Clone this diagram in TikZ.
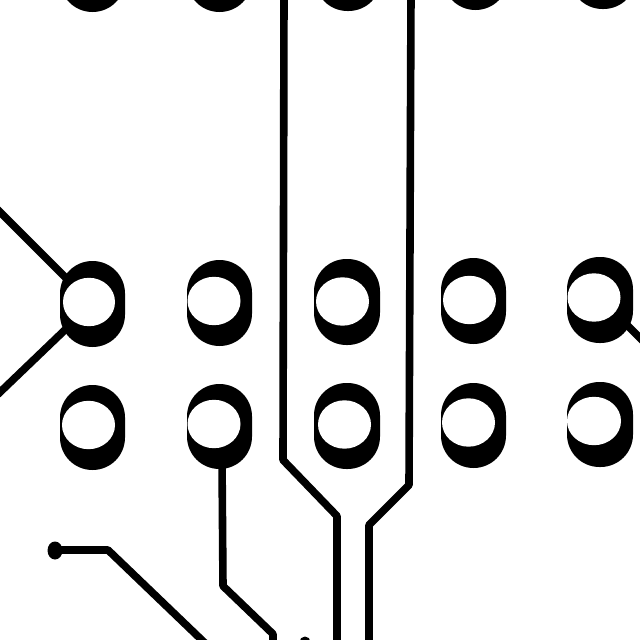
\documentclass[tikz,border=0pt]{standalone}
\tikzset{
  trace/.style={draw=black,line width=7.6pt,line join=round,line cap=butt},
  padshape/.style={fill=black,rounded corners=32.4pt},
  hole/.style={fill=white}
}
\newcommand{\padat}[7]{% x0 x1 y0 y1 holex holey (rx=#7)
  \path[padshape] (#1,#3) rectangle (#2,#4);
  \path[hole] (#5,#6) ellipse [x radius=#7pt,y radius=24.2pt];
}
\begin{document}
\begin{tikzpicture}[x=1pt,y=-1pt]
\useasboundingbox (0,0) rectangle (640,640);
\fill[white] (0,0) rectangle (640,640);
\begin{scope}
\clip (0,0) rectangle (640,640);
% traces
\draw[trace] (-5,207) -- (66,278);
\draw[trace] (-5,397) -- (68,327);
\draw[trace] (622,320) -- (650,348);
\draw[trace] (284,-5) -- (283,460) -- (337,516) -- (337,645);
\draw[trace] (411,-5) -- (409,485) -- (369,525) -- (369,645);
\draw[trace] (222,460) -- (223,586) -- (273,634) -- (273,645);
\draw[trace] (55,550) -- (108,550) -- (207,645);
\fill[black] (55,550.5) ellipse [x radius=7.5pt,y radius=9pt];
\fill[black] (305,642) circle [radius=5.5pt];
% top row, cut by the edge
\padat{60}{125}{-60}{12}{0}{-100}{1}
\padat{187}{252}{-60}{12}{0}{-100}{1}
\padat{315}{381}{-60}{11}{0}{-100}{1}
\padat{443}{508}{-60}{10}{0}{-100}{1}
\padat{570}{636}{-60}{9}{0}{-100}{1}
% row 1
\padat{60}{125}{261}{347}{89}{302}{26}
\padat{187}{252}{260}{346}{214}{301}{26.5}
\padat{314}{380}{259}{345}{342.5}{301.5}{26.5}
\padat{441}{506}{258}{344}{469.5}{300}{26.5}
\padat{567}{633}{257}{343}{594}{297.5}{26.5}
% row 2
\padat{60}{125}{385}{470}{88.5}{425}{26.5}
\padat{187}{252}{384}{469}{214}{424}{26.5}
\padat{314}{380}{383}{469}{344.5}{424.5}{26.5}
\padat{441}{506}{383}{468}{468.5}{422.5}{26.5}
\padat{567}{633}{382}{467}{594}{421}{27}
\end{scope}
\end{tikzpicture}
\end{document}
